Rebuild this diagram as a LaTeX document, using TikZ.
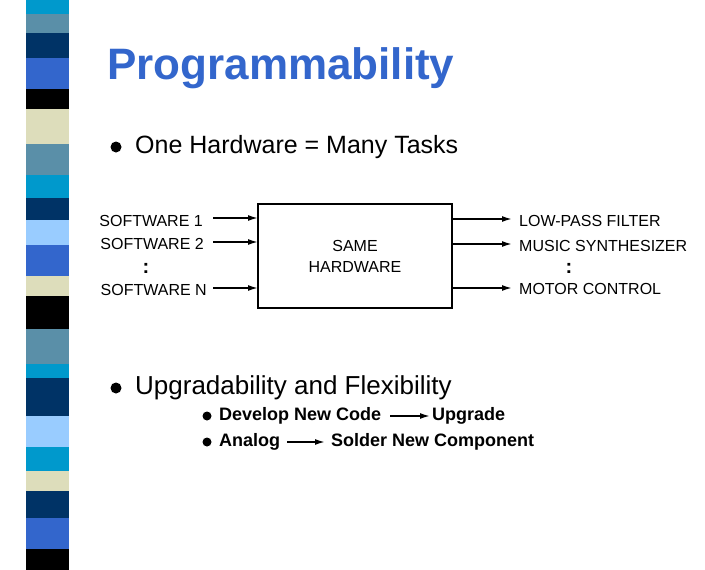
\documentclass[tikz,border=0pt]{standalone}
\usepackage{fontspec}
\setmainfont{Liberation Sans}
\usetikzlibrary{arrows.meta}
\definecolor{cA}{HTML}{0099CC}\definecolor{cB}{HTML}{5A8FA8}\definecolor{cC}{HTML}{003366}
\definecolor{cD}{HTML}{3366CC}\definecolor{cE}{HTML}{000000}\definecolor{cF}{HTML}{DDDDBB}
\definecolor{cG}{HTML}{99CCFF}\definecolor{titleblue}{HTML}{3366CC}
\begin{document}
\begin{tikzpicture}[x=1pt,y=-1pt,
  lbl/.style={inner sep=0pt,font=\fontsize{16}{16}\selectfont},
  arr/.style={-{Latex[length=10pt,width=6pt]},line width=1.6pt},
  bul/.style={circle,fill=black,inner sep=0pt,minimum size=9pt}]
\useasboundingbox (0,0) rectangle (705,570);
\foreach \a/\b/\c in {0/14/cA,14/33/cB,33/58/cC,58/89/cD,89/109/cE,109/144/cF,144/175/cB,175/198/cA,198/220/cC,220/245/cG,245/276/cD,276/296/cF,296/329/cE,329/364/cB,364/378/cA,378/416/cC,416/447/cG,447/471/cA,471/491/cF,491/518/cC,518/549/cD,549/570/cE}
  \fill[\c] (26,\a) rectangle (69,\b);
\node[anchor=west,inner sep=0pt,text=titleblue,font=\fontsize{44}{44}\selectfont\bfseries] (title) at (107,68) {Programmability};
\node[bul,minimum size=11pt] (b1) at (116,147) {};
\node[anchor=west,inner sep=0pt,font=\fontsize{25}{25}\selectfont] (t1) at (135,147) {One Hardware = Many Tasks};
\node[draw,line width=2pt,minimum width=194pt,minimum height=104pt,align=center,font=\fontsize{16}{21}\selectfont] (box) at (355,256) {SAME\\HARDWARE};
\node[lbl,anchor=east] (s1) at (203,221) {SOFTWARE 1};
\node[lbl,anchor=east] (s2) at (204,244) {SOFTWARE 2};
\node[lbl,anchor=east] (sn) at (207,290) {SOFTWARE N};
\node[lbl,font=\fontsize{20}{20}\selectfont\bfseries] (d1) at (146,268) {:};
\coordinate (i1) at (258,218);\coordinate (i2) at (258,242);\coordinate (in) at (258,288);
\draw[arr] (213,218) -- (i1);
\draw[arr] (213,242) -- (i2);
\draw[arr] (213,288) -- (in);
\node[lbl,anchor=west] (o1) at (519,221) {LOW-PASS FILTER};
\node[lbl,anchor=west] (o2) at (519,246) {MUSIC SYNTHESIZER};
\node[lbl,anchor=west] (on) at (519,289) {MOTOR CONTROL};
\node[lbl,font=\fontsize{20}{20}\selectfont\bfseries] (d2) at (569,268) {:};
\draw[arr] (452,219) -- (512,219);
\draw[arr] (452,244) -- (512,244);
\draw[arr] (452,288) -- (512,288);
\node[bul,minimum size=11pt] (b2) at (116,388) {};
\node[anchor=west,inner sep=0pt,font=\fontsize{26}{26}\selectfont] (t2) at (135,388) {Upgradability and Flexibility};
\node[bul] (b3) at (207,416) {};
\node[anchor=west,inner sep=0pt,font=\fontsize{18}{18}\selectfont\bfseries] (c1) at (219,416) {Develop New Code};
\node[anchor=west,inner sep=0pt,font=\fontsize{18}{18}\selectfont\bfseries] (c2) at (432,416) {Upgrade};
\draw[arr] (390,416) -- (430,416);
\node[bul] (b4) at (207,442) {};
\node[anchor=west,inner sep=0pt,font=\fontsize{18}{18}\selectfont\bfseries] (c3) at (219,442) {Analog};
\node[anchor=west,inner sep=0pt,font=\fontsize{18}{18}\selectfont\bfseries] (c4) at (331,442) {Solder New Component};
\draw[arr] (287,442) -- (325,442);
\end{tikzpicture}
\end{document}
